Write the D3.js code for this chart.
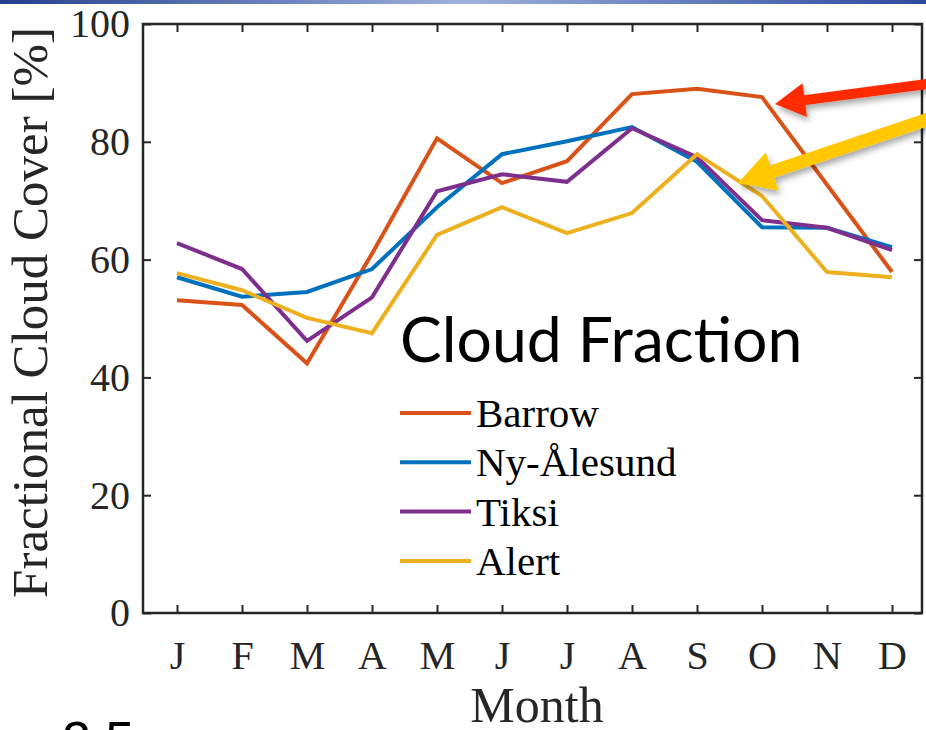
<!DOCTYPE html>
<html>
<head>
<meta charset="utf-8">
<script src="https://cdn.jsdelivr.net/npm/d3@7"></script>
<style>
  body { margin: 0; background: #fff; }
  svg { display: block; }
</style>
</head>
<body>
<svg id="svg1" width="926" height="730"></svg>
<script>
var months = ["J", "F", "M", "A", "M", "J", "J", "A", "S", "O", "N", "D"];
var yTicks = [0, 20, 40, 60, 80, 100];

var barrow = [53.1, 52.3, 42.4, 61.0, 80.6, 73.0, 76.7, 88.1, 89.0, 87.6, 72.7, 57.9];
var nyAlesund = [57.0, 53.7, 54.5, 58.4, 68.9, 77.9, 80.1, 82.5, 76.6, 65.5, 65.4, 62.1];
var tiksi = [62.8, 58.4, 46.2, 53.6, 71.6, 74.5, 73.2, 82.3, 77.4, 66.7, 65.4, 61.6];
var alert_ = [57.7, 54.8, 50.1, 47.5, 64.2, 68.9, 64.5, 67.9, 77.9, 70.8, 57.9, 57.0];

var seriesNames = ["Barrow", "Ny-Ålesund", "Tiksi", "Alert"];
var seriesColors = ["#D95319", "#0072BD", "#7E2F8E", "#EDB120"];
var seriesData = [barrow, nyAlesund, tiksi, alert_];

var svg = d3.select("#svg1");
var serif = "'Liberation Serif', 'Times New Roman', serif";
var axisColor = "#262626";

var box = {left: 143, right: 922, top: 24, bottom: 613};

var x = d3.scaleLinear().domain([1, 12]).range([177, 892]);
var y = d3.scaleLinear().domain([0, 100]).range([box.bottom, box.top]);

// top banner strip
var defs = svg.append("defs");
var grad = defs.append("linearGradient").attr("id", "banner");
grad.append("stop").attr("offset", "0%").attr("stop-color", "#243f8c");
grad.append("stop").attr("offset", "50%").attr("stop-color", "#9fb0dc");
grad.append("stop").attr("offset", "100%").attr("stop-color", "#2c4a9c");
svg.append("rect").attr("x", 0).attr("y", 0).attr("width", 926).attr("height", 4)
    .attr("fill", "url(#banner)");

var shadow = defs.append("filter").attr("id", "shadow")
    .attr("x", "-20%").attr("y", "-50%").attr("width", "140%").attr("height", "200%");
shadow.append("feDropShadow").attr("dx", 2).attr("dy", 4).attr("stdDeviation", 3)
    .attr("flood-color", "#000").attr("flood-opacity", 0.35);

// data lines
var line = d3.line()
    .x(function(d, i) { return x(i + 1); })
    .y(function(d) { return y(d); });

var lines = svg.append("g");
seriesData.forEach(function(s, k) {
  lines.append("path")
      .datum(s)
      .attr("d", line)
      .attr("fill", "none")
      .attr("stroke", seriesColors[k])
      .attr("stroke-width", 4)
      .attr("stroke-linejoin", "miter");
});

// axes box
var monthIdx = d3.range(1, 13);
var xAxis = d3.axisBottom(x).tickValues(monthIdx)
    .tickFormat(function(d) { return months[d - 1]; })
    .tickSizeInner(-8).tickSizeOuter(0).tickPadding(28);
var xAxisTop = d3.axisTop(x).tickValues(monthIdx).tickFormat("")
    .tickSizeInner(-8).tickSizeOuter(0);
var yAxis = d3.axisLeft(y).tickValues(yTicks)
    .tickSizeInner(-8).tickSizeOuter(0).tickPadding(13);
var yAxisRight = d3.axisRight(y).tickValues(yTicks).tickFormat("")
    .tickSizeInner(-8).tickSizeOuter(0);

function styleAxis(g) {
  g.select(".domain").remove();
  g.selectAll("line").attr("stroke", axisColor).attr("stroke-width", 2);
  g.selectAll("text").attr("fill", "#262626").attr("font-family", serif)
      .attr("font-size", 40);
}

svg.append("g").attr("transform", "translate(0," + box.bottom + ")").call(xAxis).call(styleAxis);
svg.append("g").attr("transform", "translate(0," + box.top + ")").call(xAxisTop).call(styleAxis);
svg.append("g").attr("transform", "translate(" + box.left + ",0)").call(yAxis).call(styleAxis);
svg.append("g").attr("transform", "translate(" + box.right + ",0)").call(yAxisRight).call(styleAxis);

svg.append("rect")
    .attr("x", box.left).attr("y", box.top)
    .attr("width", box.right - box.left).attr("height", box.bottom - box.top)
    .attr("fill", "none").attr("stroke", axisColor).attr("stroke-width", 2.5);

// axis titles
svg.append("text")
    .attr("x", 537).attr("y", 722)
    .attr("text-anchor", "middle")
    .attr("font-family", serif).attr("font-size", 50).attr("fill", "#262626")
    .text("Month");

svg.append("text")
    .attr("transform", "translate(47," + ((box.top + box.bottom) / 2 - 6) + ") rotate(-90)")
    .attr("text-anchor", "middle")
    .attr("font-family", serif).attr("font-size", 51).attr("fill", "#262626")
    .text("Fractional Cloud Cover [%]");

// legend
var legend = svg.append("g");
seriesNames.forEach(function(name, k) {
  var ly = 413 + k * 49.3;
  legend.append("line")
      .attr("x1", 400).attr("x2", 471).attr("y1", ly).attr("y2", ly)
      .attr("stroke", seriesColors[k]).attr("stroke-width", 4);
  legend.append("text")
      .attr("x", 476).attr("y", ly + 14)
      .attr("font-family", serif).attr("font-size", 41).attr("fill", "#000")
      .text(name);
});

// slide annotation
svg.append("text")
    .attr("x", 400).attr("y", 362)
    .attr("font-family", "Lato, 'Open Sans', sans-serif").attr("font-size", 62.5)
    .attr("fill", "#000")
    .text("Cloud Fraction");

svg.append("text")
    .attr("x", 62).attr("y", 758)
    .attr("font-family", "'Liberation Sans', Arial, sans-serif").attr("font-size", 52)
    .attr("fill", "#000")
    .text("2.5");

// arrows
function arrow(x0, y0, x1, y1, shaft, headLen, headHalf, color) {
  var dx = x1 - x0, dy = y1 - y0, len = Math.sqrt(dx * dx + dy * dy);
  var ux = dx / len, uy = dy / len, px = -uy, py = ux;
  var bx = x1 - ux * headLen, by = y1 - uy * headLen;
  var pts = [
    [x0 + px * shaft / 2, y0 + py * shaft / 2],
    [bx + px * shaft / 2, by + py * shaft / 2],
    [bx + px * headHalf, by + py * headHalf],
    [x1, y1],
    [bx - px * headHalf, by - py * headHalf],
    [bx - px * shaft / 2, by - py * shaft / 2],
    [x0 - px * shaft / 2, y0 - py * shaft / 2]
  ];
  svg.append("polygon")
      .attr("points", pts.map(function(p) { return p.join(","); }).join(" "))
      .attr("fill", color)
      .attr("filter", "url(#shadow)");
}
arrow(935, 83, 775, 104, 10, 30, 17, "#FF2A00");
arrow(935, 117, 738, 183, 13, 36, 20, "#FFC800");
</script>
</body>
</html>
